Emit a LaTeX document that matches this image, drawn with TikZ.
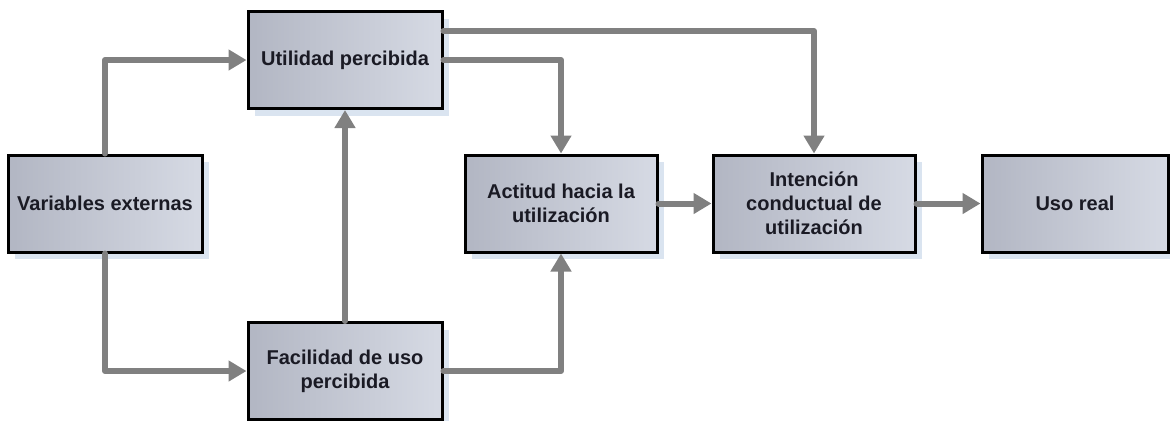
\documentclass[tikz,border=0pt]{standalone}
\usepackage{fontspec}
\setmainfont{Liberation Sans}
\usetikzlibrary{arrows.meta,shadows}
\definecolor{boxL}{RGB}{178,182,195}
\definecolor{boxR}{RGB}{214,218,228}
\definecolor{shadowblue}{RGB}{218,228,240}
\definecolor{flowgray}{RGB}{128,128,128}
\definecolor{textdark}{RGB}{26,26,36}
\begin{document}
\begin{tikzpicture}[x=0.5pt,y=-0.5pt,
    block/.style={draw=black,line width=1.5pt,left color=boxL,right color=boxR,
        minimum height=48.5pt,align=center,text=textdark,
        font=\bfseries\fontsize{10}{12}\selectfont,
        drop shadow={shadow xshift=3.5pt,shadow yshift=-3.5pt,fill=shadowblue,opacity=1}},
    flow/.style={draw=flowgray,line width=3pt,line cap=round,line join=round,
        -{Triangle[width=10pt,length=9pt]}}]
    % Technology acceptance model
    \useasboundingbox (0,0) rectangle (1170,420);
    \node[block,minimum width=97pt]   (ve) at (105,203.5)  {Variables externas};
    \node[block,minimum width=97pt]   (up) at (345,60)     {Utilidad percibida};
    \node[block,minimum width=97pt]   (fu) at (345,371)    {Facilidad de uso\\percibida};
    \node[block,minimum width=96pt]   (ah) at (561,203.5)  {Actitud hacia la\\utilización};
    \node[block,minimum width=101pt]  (ic) at (814,203.5)  {Intención\\conductual de\\utilización};
    \node[block,minimum width=93pt]   (ur) at (1075,203.5) {Uso real};

    \draw[flow] (ve.north) |- (up.west);
    \draw[flow] (ve.south) |- (fu.west);
    \draw[flow] (fu.north) -- (up.south);
    \draw[flow] (up.east) -| (ah.north);
    \draw[flow] ([yshift=14.5pt]up.east) -| (ic.north);
    \draw[flow] (fu.east) -| (ah.south);
    \foreach \a/\b in {ah/ic, ic/ur}
        \draw[flow] (\a) -- (\b);
\end{tikzpicture}
\end{document}
